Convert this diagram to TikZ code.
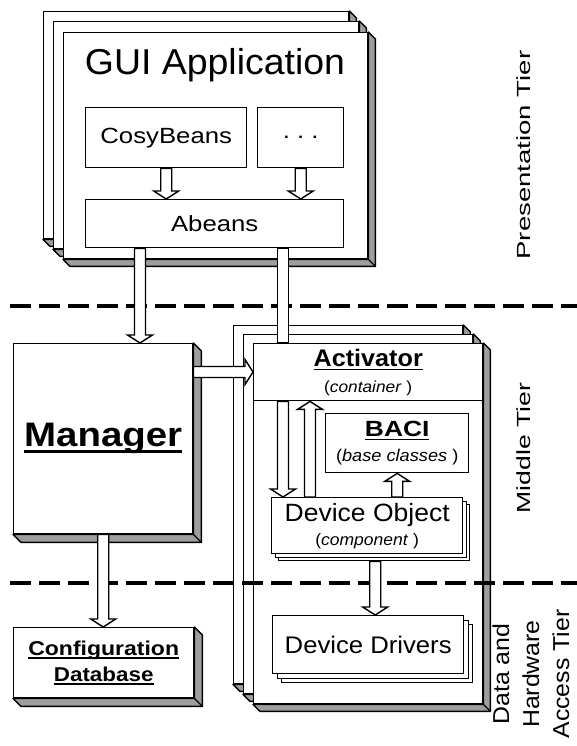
\documentclass[tikz,border=0pt]{standalone}
\usepackage{fontspec}
\setmainfont{Liberation Sans}
\usepackage{graphicx}
\usetikzlibrary{calc}
\newcommand\myul[1]{\setbox0\hbox{#1}\rlap{\rule[-0.17em]{\wd0}{0.07em}}\box0}
\newcommand\fsz[2]{\fontsize{#1}{#2}\selectfont}
\newcommand\sx[2]{\scalebox{#1}[1]{#2}}
\definecolor{shd}{gray}{0.62}
\tikzset{
 lw/.style={line width=1.4pt},
 frame/.style={lw, draw, fill=white, inner sep=0pt, anchor=north west, align=center},
 arr/.style={lw, draw, fill=white, line join=miter},
 tierline/.style={line width=4pt, dash pattern=on 21pt off 8pt},
 tier/.style={rotate=90, inner sep=0pt},
}
\newcommand\bx[7][]{\node[frame, minimum width={(#5-#3)*1pt}, minimum height={(#6-#4)*1pt}, #1] (#2) at (#3,#4) {#7};}
\newcommand\depth[2]{%
 \filldraw[lw, fill=shd, line join=round] (#1.north east) -- ++(#2,#2) -- ($(#1.south east)+(#2,#2)$) -- ($(#1.south west)+(#2,#2)$) -- (#1.south west) -- (#1.south east) -- cycle;
 \draw[lw] (#1.south east) -- ++(#2,#2);}
\newcommand\barrow[2]{%
 \coordinate (ba) at #1; \coordinate (bb) at #2;
 \coordinate (bc) at ($(bb)!8pt!(ba)$);
 \filldraw[arr] ($(ba)!5.5pt!90:(bb)$) -- ($(bc)!5.5pt!-90:(ba)$) -- ($(bc)!12.5pt!-90:(ba)$) -- (bb) -- ($(bc)!12.5pt!90:(ba)$) -- ($(bc)!5.5pt!90:(ba)$) -- ($(ba)!5.5pt!-90:(bb)$) -- cycle;}
\begin{document}
\begin{tikzpicture}[x=1pt, y=-1pt]
\useasboundingbox (0,0) rectangle (577,746);
\fill[white] (0,0) rectangle (577,746);
% GUI application stack
\bx{g1}{43}{11}{348}{238}{}
\depth{g1}{7}
\bx{g2}{53}{21}{358}{248}{}
\depth{g2}{7}
\bx{g3}{63}{32}{367}{258}{}
\depth{g3}{7}
\node[anchor=base, font=\fsz{36}{40}] (guit) at (215,75) {\sx{1.04}{GUI Application}};
\bx[font=\fsz{22}{26}]{cosy}{85}{107}{246}{167}{\sx{1.17}{CosyBeans}}
\bx[font=\fsz{22}{26}]{dots}{257}{107}{343}{167}{\sx{1.17}{.\ .\ .}}
\bx[font=\fsz{22}{26}]{abeans}{85}{199}{343}{247}{\sx{1.17}{Abeans}}
% container stack
\bx{c1}{233}{325}{462}{683}{}
\depth{c1}{7}
\bx{c2}{243}{334}{472}{693}{}
\depth{c2}{7}
\bx{c3}{253}{343}{482}{703}{}
\depth{c3}{7}
\bx[font=\fsz{24}{28}]{act}{253}{343}{482}{400}{\myul{\bfseries\sx{1.05}{Activator}}\\[-2pt]{\fsz{16}{18}\sx{1.08}{(\textit{container} )}}}
\bx[font=\fsz{22}{26}]{baci}{325}{413}{468}{472}{\myul{\bfseries\sx{1.2}{BACI}}\\[-1pt]{\fsz{17}{19}\sx{1.07}{(\textit{base classes} )}}}
\bx{dobj2}{278}{504}{469}{560}{}
\bx{dobj1}{274.5}{500.5}{465.5}{556.5}{}
\bx[font=\fsz{25}{27}]{dobj}{271}{497}{462}{553}{\sx{1.06}{Device Object}\\[-3pt]{\fsz{16.5}{18}\sx{1.06}{(\textit{component} )}}}
\bx{dd2}{281}{624}{472}{682}{}
\bx{dd1}{276.5}{619.5}{467.5}{677.5}{}
\bx[font=\fsz{24}{28}]{dd}{272}{615}{463}{673}{\sx{1.07}{Device Drivers}}
% manager and configuration database
\bx[font=\fsz{34}{40}\bfseries]{mgr}{13}{343}{192}{533}{\myul{\sx{1.13}{Manager}}}
\depth{mgr}{8}
\bx[font=\fsz{20}{26}\bfseries]{cfg}{13}{627}{193}{697}{\myul{\sx{1.15}{Configuration}}\\\myul{\sx{1.12}{Database}}}
\depth{cfg}{8}
% tier separators
\draw[tierline] (10,306) -- (577,306);
\draw[tierline] (10,583) -- (577,583);
% arrows
\barrow{(cosy.south)}{(cosy.south |- abeans.north)}
\barrow{(dots.south)}{(dots.south |- abeans.north)}
\coordinate (a3) at ($(abeans.south west)+(55,0)$);
\barrow{(a3)}{(a3 |- mgr.north)}
\coordinate (a4) at ($(abeans.south west)+(198,0)$);
\coordinate (a4e) at (a4 |- act.north);
\filldraw[arr] ($(a4)+(-5.5,0)$) rectangle ($(a4e)+(5.5,0)$);
\coordinate (a5) at ($(mgr.north east)+(0,29)$);
\barrow{(a5)}{(a5 -| act.west)}
\barrow{(mgr.south)}{(mgr.south |- cfg.north)}
\coordinate (a7) at ($(act.south west)+(30,0)$);
\barrow{(a7)}{(a7 |- dobj.north)}
\coordinate (a8) at ($(dobj.north west)+(39,0)$);
\barrow{(a8)}{(a8 |- act.south)}
\barrow{(baci.south |- dobj.north)}{(baci.south)}
\coordinate (a10) at ($(dobj.south)+(8,7)$);
\barrow{(a10)}{(a10 |- dd.north)}
% tier labels
\node[tier, font=\fsz{19}{22}] (pt) at (524,155) {\sx{1.45}{Presentation Tier}};
\node[tier, font=\fsz{19}{22}] (mt) at (524,448) {\sx{1.4}{Middle Tier}};
\node[tier, font=\fsz{23}{30}, align=center] (dt) at (531,674) {\sx{1.08}{Data and}\\\sx{1.08}{Hardware}\\\sx{1.08}{Access Tier}};
\end{tikzpicture}
\end{document}
